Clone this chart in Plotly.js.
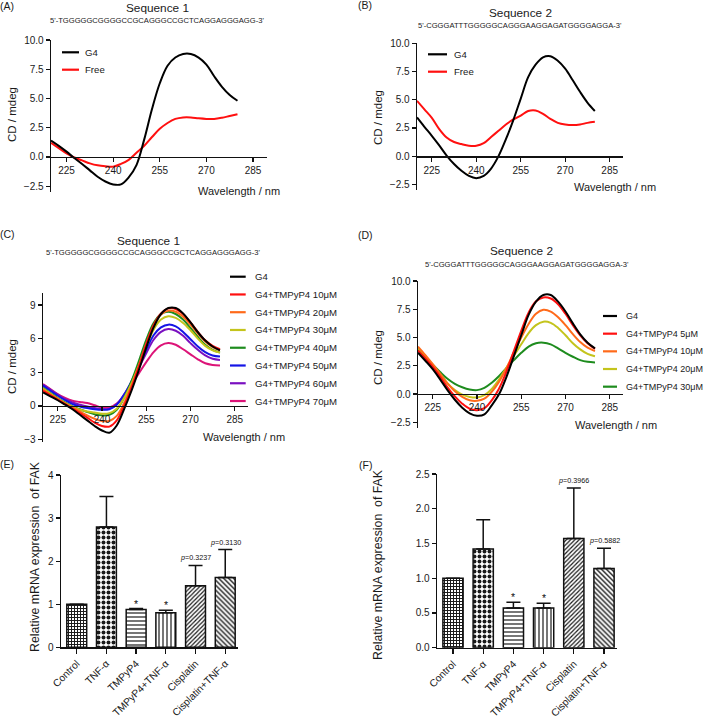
<!DOCTYPE html>
<html><head><meta charset="utf-8">
<script src="https://cdn.plot.ly/plotly-3.0.1.min.js"></script>
<style>html,body{margin:0;padding:0;background:#fff;}#chart{width:709px;height:719px;}</style>
</head><body><div id="chart"></div>
<script>
// ---------------- DATA ----------------
const wavelength = [220,222.5,225,227.5,230,232.5,235,237.5,240,242.5,245,247.5,250,252.5,255,257.5,260,262.5,265,267.5,270,272.5,275,277.5,280];

// Panel A (Sequence 1)
const seriesA = ['G4','Free'];
const A_G4   = [1.4,0.95,0.45,-0.1,-0.6,-1.15,-1.7,-2.1,-2.35,-2.35,-1.75,-0.7,1.5,4.1,6.3,7.8,8.5,8.8,8.8,8.5,7.9,6.9,6.0,5.3,4.8];
const A_Free = [1.2,0.75,0.3,-0.05,-0.3,-0.55,-0.72,-0.8,-0.83,-0.6,-0.25,0.35,0.95,1.7,2.4,2.9,3.25,3.38,3.38,3.3,3.25,3.25,3.35,3.5,3.65];

// Panel B (Sequence 2)
const seriesB = ['G4','Free'];
const B_G4   = [3.43,2.6,1.8,0.95,0.05,-0.7,-1.3,-1.75,-1.95,-1.75,-1.1,0.0,1.5,3.2,5.1,7.0,8.1,8.75,8.85,8.45,7.75,6.75,5.7,4.75,4.0];
const B_Free = [4.9,4.15,3.4,2.4,1.65,1.25,1.07,0.93,0.92,1.15,1.7,2.25,2.8,3.25,3.6,4.0,4.05,3.75,3.3,2.95,2.8,2.75,2.8,2.95,3.05];

// Panel C (Sequence 1 + TMPyP4)
const seriesC = ['G4','G4+TMPyP4 10\u03bcM','G4+TMPyP4 20\u03bcM','G4+TMPyP4 30\u03bcM','G4+TMPyP4 40\u03bcM','G4+TMPyP4 50\u03bcM','G4+TMPyP4 60\u03bcM','G4+TMPyP4 70\u03bcM'];
const C_G4   = [1.2,0.85,0.5,0.1,-0.3,-0.8,-1.3,-1.8,-2.2,-2.4,-1.75,-0.3,1.35,3.2,5.2,7.0,8.2,8.73,8.73,8.25,7.45,6.57,5.83,5.3,4.95];
const C_10uM = [1.35,0.95,0.55,0.15,-0.25,-0.65,-1.05,-1.5,-1.8,-1.85,-1.3,0.0,1.6,3.5,5.5,7.2,8.25,8.7,8.65,8.2,7.45,6.6,5.85,5.35,5.05];
const C_20uM = [1.45,1.0,0.6,0.2,-0.15,-0.5,-0.85,-1.15,-1.35,-1.35,-0.9,0.25,1.8,3.6,5.55,7.15,8.15,8.5,8.4,7.95,7.25,6.45,5.75,5.25,4.95];
const C_30uM = [1.55,1.1,0.65,0.25,-0.1,-0.35,-0.5,-0.6,-0.7,-0.65,-0.25,0.7,2.0,3.6,5.3,6.8,7.7,8.0,7.85,7.4,6.75,6.0,5.35,4.95,4.75];
const C_40uM = [1.6,1.15,0.7,0.3,-0.05,-0.3,-0.55,-0.75,-0.85,-0.8,-0.35,0.7,2.2,4.0,5.9,7.4,8.2,8.4,8.2,7.7,6.95,6.15,5.45,5.0,4.75];
const C_50uM = [1.8,1.35,0.9,0.5,0.15,-0.05,-0.2,-0.3,-0.35,-0.3,0.1,1.0,2.2,3.6,5.0,6.3,7.0,7.25,7.1,6.6,5.95,5.3,4.8,4.5,4.4];
const C_60uM = [1.9,1.45,1.0,0.6,0.3,0.1,-0.05,-0.2,-0.3,-0.25,0.15,1.0,2.1,3.4,4.7,5.9,6.6,6.85,6.7,6.25,5.6,5.0,4.5,4.2,4.1];
const C_70uM = [1.95,1.5,1.05,0.7,0.45,0.35,0.25,0.05,-0.15,-0.15,0.2,0.9,1.9,2.9,3.9,4.8,5.4,5.6,5.45,5.05,4.6,4.15,3.8,3.65,3.6];

// Panel D (Sequence 2 + TMPyP4)
const seriesD = ['G4','G4+TMPyP4 5\u03bcM','G4+TMPyP4 10\u03bcM','G4+TMPyP4 20\u03bcM','G4+TMPyP4 30\u03bcM'];
const D_G4   = [3.66,2.95,2.2,1.3,0.35,-0.5,-1.2,-1.7,-1.92,-1.8,-1.0,0.0,1.53,3.36,5.2,7.0,8.17,8.76,8.76,8.17,7.3,6.25,5.28,4.54,4.04];
const D_5uM  = [3.85,3.15,2.4,1.55,0.6,-0.2,-0.85,-1.3,-1.42,-1.25,-0.55,0.5,2.0,3.8,5.6,7.2,8.2,8.55,8.45,7.95,7.1,6.1,5.2,4.5,4.0];
const D_10uM = [4.2,3.45,2.65,1.8,0.95,0.25,-0.25,-0.55,-0.6,-0.4,0.2,1.1,2.3,3.7,5.0,6.2,7.1,7.45,7.3,6.8,6.1,5.3,4.6,4.1,3.8];
const D_20uM = [4.05,3.3,2.55,1.75,0.95,0.35,-0.05,-0.25,-0.3,-0.1,0.45,1.3,2.35,3.4,4.4,5.4,6.1,6.4,6.3,5.85,5.2,4.5,3.95,3.55,3.35];
const D_30uM = [3.9,3.25,2.6,1.95,1.35,0.9,0.6,0.4,0.35,0.55,1.0,1.6,2.3,3.0,3.65,4.2,4.5,4.55,4.4,4.05,3.65,3.3,3.0,2.85,2.8];

// Panels E / F (relative FAK mRNA expression)
const treatments = ['Control','TNF-\u03b1','TMPyP4','TMPyP4+TNF-\u03b1','Cisplatin','Cisplatin+TNF-\u03b1'];
const E_mean = [1.0,2.79,0.88,0.80,1.43,1.62];
const E_err  = [0,0.71,0.02,0.06,0.47,0.65];
const F_mean = [1.0,1.42,0.57,0.57,1.57,1.14];
const F_err  = [0,0.42,0.085,0.07,0.73,0.29];
const E_marks = ['','','*','*','<i>p</i>=0.3237','<i>p</i>=0.3130'];
const F_marks = ['','','*','*','<i>p</i>=0.3966','<i>p</i>=0.5882'];

const seqText1 = "5'-TGGGGGCGGGGCCGCAGGGCCGCTCAGGAGGGAGG-3'";
const seqText2 = "5'-CGGGATTTGGGGGCAGGGAAGGAGATGGGGAGGA-3'";

// ---------------- STYLE ----------------
function hasFont(name) {
  const c = document.createElement('canvas').getContext('2d');
  const s = 'G4+TMPyP4 10 Wavelength / nm mdeg';
  c.font = '40px monospace'; const w0 = c.measureText(s).width;
  c.font = '40px "' + name + '", monospace'; const w1 = c.measureText(s).width;
  return Math.abs(w1 - w0) > 1;
}
const REG = 'Liberation Sans, Arial, sans-serif';
const NARROW_OK = hasFont('Liberation Sans Narrow') || hasFont('Arial Narrow');
const HFONT = NARROW_OK ? '"Liberation Sans Narrow", "Arial Narrow", Liberation Sans, sans-serif' : REG;
const SZ = NARROW_OK
  ? {tick: 11, legend: 11, legendD: 10.5, title: 13, seq: 9.2, axt: 12, label: 11, pval: 8.5, star: 11, bartick: 10.5}
  : {tick: 10, legend: 9.6, legendD: 9.0, title: 11.8, seq: 7.6, axt: 11, label: 10.5, pval: 7.2, star: 10.5, bartick: 10.2};

const W = 709, H = 719;
const TXT = '#1a1a1a';
const fx = x => x / W, fy = y => 1 - y / H;
const colorsAB = ['#000000','#ff1010'];
const colorsC = ['#000000','#ff1010','#ff6a1a','#c4c41c','#1e8c1e','#1414e6','#7a10c0','#dc1478'];
const colorsD = ['#000000','#ff1010','#ff6a1a','#c4c41c','#1e8c1e'];
const patShape = ['+','.','-','|','/','\\'];
const patSize  = [3,5,4,4,3,3.5];
const patSolid = [0.55,0.5,0.3,0.3,0.4,0.4];

const traces = [];
const annotations = [];
const shapes = [];
const layout = {
  width: W, height: H, margin: {l:0,r:0,t:0,b:0},
  paper_bgcolor: '#fff', plot_bgcolor: '#fff', showlegend: false,
  font: {family: HFONT, size: 11, color: TXT},
  bargap: 0.33
};

function ann(text, x, y, size, extra, family) {
  annotations.push(Object.assign({text: text, x: fx(x), y: fy(y), xref: 'paper', yref: 'paper',
    showarrow: false, font: {family: family || HFONT, size: size, color: TXT}, xanchor: 'center', yanchor: 'middle'}, extra || {}));
}

function axStyle(size) {
  return {showgrid: false, zeroline: false, showline: true, linecolor: '#111', linewidth: 1.4,
    ticks: 'outside', ticklen: 4, tickwidth: 1.3, tickcolor: '#111',
    tickfont: {family: HFONT, size: size || SZ.tick, color: TXT}, fixedrange: true};
}

// Curve panel
function curvePanel(n, box, yr, yticks, yfmt, names, data, colors) {
  const xd = [fx(box.l), fx(box.r)];
  const yd = [fy(box.b), fy(box.t)];
  const pos = yd[0] + (0 - yr[0]) / (yr[1] - yr[0]) * (yd[1] - yd[0]);
  layout['xaxis' + n] = Object.assign(axStyle(), {domain: xd, range: [220, 289.5], anchor: 'free', position: pos,
    tickvals: [225,240,255,270,285]});
  layout['yaxis' + n] = Object.assign(axStyle(), {domain: yd, range: yr, anchor: 'x' + n, tickvals: yticks, tickformat: yfmt});
  for (let i = data.length - 1; i >= 0; i--) {
    traces.push({type: 'scatter', mode: 'lines', x: wavelength, y: data[i], name: names[i],
      xaxis: 'x' + n, yaxis: 'y' + n, line: {color: colors[i], width: 2, shape: 'spline', smoothing: 1}});
  }
}

// Custom legend (short line samples like the original)
function legend(names, colors, x0, x1, xt, y0, dy, size) {
  names.forEach((nm, i) => {
    const y = y0 + i * dy;
    shapes.push({type: 'line', xref: 'paper', yref: 'paper', x0: fx(x0), x1: fx(x1), y0: fy(y), y1: fy(y),
      line: {color: colors[i], width: 2.2}});
    ann(nm, xt, y, size || SZ.legend, {xanchor: 'left'});
  });
}

// Bar panel
function barPanel(n, box, yr, yticks, yfmt, means, errs, marks) {
  layout['xaxis' + n] = Object.assign(axStyle(SZ.bartick), {domain: [fx(box.l), fx(box.r)], range: [-0.53, 5.43],
    type: 'category', anchor: 'y' + n, tickangle: -45, ticklen: 5});
  layout['yaxis' + n] = Object.assign(axStyle(), {domain: [fy(box.b), fy(box.t)], range: yr, anchor: 'x' + n,
    tickvals: yticks, tickformat: yfmt});
  traces.push({type: 'bar', x: treatments, y: means, xaxis: 'x' + n, yaxis: 'y' + n,
    marker: {color: '#fff', line: {color: '#111', width: 1.5},
      pattern: {shape: patShape, size: patSize, solidity: patSolid, fgcolor: '#1a1a1a', bgcolor: '#fff', fillmode: 'replace'}},
    error_y: {type: 'data', symmetric: false, array: errs, arrayminus: errs.map(() => 0),
      color: '#111', thickness: 1.5, width: 7}});
  marks.forEach((m, i) => {
    if (!m) return;
    const star = m === '*';
    annotations.push({text: m, x: i, y: means[i] + errs[i], xref: 'x' + n, yref: 'y' + n,
      showarrow: false, yanchor: 'bottom', xanchor: 'center', yshift: star ? -3 : 1,
      font: {family: HFONT, size: star ? SZ.star : SZ.pval, color: '#111'}});
  });
}

// ---------------- BUILD ----------------
curvePanel(1, {l: 51, r: 267, t: 40, b: 192}, [-3.0, 10.0], [-2.5,0,2.5,5,7.5,10], '.1f', seriesA, [A_G4, A_Free], colorsAB);
curvePanel(2, {l: 417, r: 623, t: 43.3, b: 190}, [-3.0, 10.0], [-2.5,0,2.5,5,7.5,10], '.1f', seriesB, [B_G4, B_Free], colorsAB);
curvePanel(3, {l: 43, r: 248, t: 292.7, b: 441.7}, [-3.2, 10.1], [-3,0,3,6,9], 'd', seriesC,
  [C_G4, C_10uM, C_20uM, C_30uM, C_40uM, C_50uM, C_60uM, C_70uM], colorsC);
curvePanel(4, {l: 418, r: 623, t: 281, b: 428}, [-3.0, 10.0], [-2.5,0,2.5,5,7.5,10], '.1f', seriesD,
  [D_G4, D_5uM, D_10uM, D_20uM, D_30uM], colorsD);
barPanel(5, {l: 61, r: 238, t: 475, b: 647.3}, [0, 4], [0,1,2,3,4], 'd', E_mean, E_err, E_marks);
barPanel(6, {l: 437, r: 617, t: 474, b: 647.7}, [0, 2.5], [0,0.5,1,1.5,2,2.5], '.1f', F_mean, F_err, F_marks);

legend(seriesA, colorsAB, 62, 79, 83, 52.3, 17.4);
legend(seriesB, colorsAB, 428, 447, 451.7, 54.3, 17.4);
legend(seriesC, colorsC, 230, 245.7, 253.3, 276.7, 17.76);
legend(seriesD, colorsD, 603, 617, 623.5, 316, 17.67, SZ.legendD);

// panel labels
ann('(A)', 7, 6, SZ.label); ann('(B)', 365, 5, SZ.label); ann('(C)', 7.5, 234, SZ.label);
ann('(D)', 365, 235, SZ.label); ann('(E)', 7.5, 464, SZ.label); ann('(F)', 365, 465, SZ.label);
// titles
ann('Sequence 1', 157, 7.5, SZ.title); ann(seqText1, 157, 20.7, SZ.seq);
ann('Sequence 2', 520, 13, SZ.title); ann(seqText2, 520, 25, SZ.seq);
ann('Sequence 1', 148.3, 240.7, SZ.title); ann(seqText1, 153, 252.7, SZ.seq);
ann('Sequence 2', 521.7, 250.7, SZ.title); ann(seqText2, 526.7, 264, SZ.seq);
// axis titles (vertical ones in the regular-width face)
[[12,115],[378,117],[12,367],[378,357]].forEach(p => ann('CD / mdeg', p[0], p[1], 11.5, {textangle: -90}, REG));
[[239,191],[615,187],[244,437],[616,425]].forEach(p => ann('Wavelength / nm', p[0], p[1], SZ.axt));
ann('Relative mRNA expression\u00a0 of FAK', 35, 557, 12.3, {textangle: -90}, REG);
ann('Relative mRNA expression\u00a0 of FAK', 378, 564, 12.3, {textangle: -90}, REG);

layout.annotations = annotations;
layout.shapes = shapes;
Plotly.newPlot('chart', traces, layout, {staticPlot: true, displayModeBar: false});
</script></body></html>
